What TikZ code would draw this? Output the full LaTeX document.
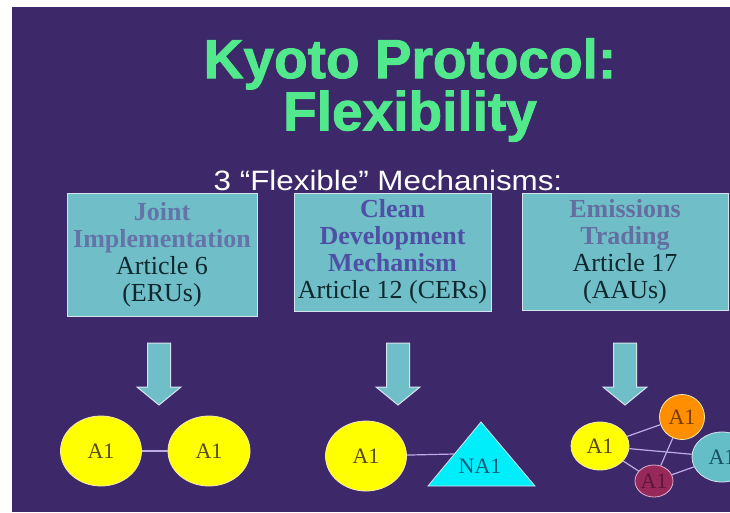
\documentclass[tikz,border=0pt]{standalone}
\usepackage{fontspec}
\usepackage{graphicx}
\setmainfont{Liberation Serif}
\newfontfamily\headfont{Liberation Sans}[BoldFeatures={FakeBold=1.6}]
\usetikzlibrary{shapes.geometric}

\definecolor{bg}{RGB}{61,40,106}
\definecolor{titlegreen}{RGB}{82,232,140}
\definecolor{boxfill}{RGB}{112,190,200}
\definecolor{boxline}{RGB}{215,228,240}
\definecolor{bodytext}{RGB}{15,40,45}
\definecolor{hdA}{RGB}{100,115,168}
\definecolor{hdB}{RGB}{78,80,165}
\definecolor{hdC}{RGB}{100,110,160}
\definecolor{yell}{RGB}{255,255,0}
\definecolor{yellline}{RGB}{245,235,175}
\definecolor{yelltext}{RGB}{85,75,25}
\definecolor{linkcol}{RGB}{190,172,230}
\definecolor{tricol}{RGB}{0,238,250}
\definecolor{tritext}{RGB}{20,90,125}
\definecolor{orangec}{RGB}{255,142,0}
\definecolor{orangetext}{RGB}{120,60,0}
\definecolor{tealc}{RGB}{100,190,200}
\definecolor{tealtext}{RGB}{20,80,100}
\definecolor{maroonc}{RGB}{150,40,90}
\definecolor{maroonline}{RGB}{225,175,205}
\definecolor{maroontext}{RGB}{95,20,60}

\newcommand{\hd}[2]{\textcolor{#1}{\textbf{#2}}}

\begin{document}
\begin{tikzpicture}[x=1pt,y=-1pt]
	\tikzstyle{mbox}=[rectangle, draw=boxline, line width=1pt, fill=boxfill, inner sep=0pt, align=center, text=bodytext, font=\rmfamily\fontsize{26}{27}\selectfont]
	\tikzstyle{e}=[ellipse, inner sep=0pt, line width=0.8pt, font=\rmfamily\fontsize{22}{22}\selectfont]
	\tikzstyle{yl}=[fill=yell, draw=yellline, text=yelltext]
	\tikzstyle{link}=[draw=linkcol, line width=1.2pt]
	\tikzstyle{blockarrow}=[fill=boxfill, draw=boxline, line width=1pt]

	\useasboundingbox (0,0) rectangle (730,512);
	\fill[white] (0,0) rectangle (730,512);
	\fill[bg] (12,7) rectangle (730,512);

	% heading
	\node[font=\headfont\bfseries\fontsize{55}{49}\selectfont, text=titlegreen, align=center] (title) at (410,90) {Kyoto Protocol:\\Flexibility};
	\node[font=\headfont\fontsize{28}{28}\selectfont, text=white] (sub) at (388,180) {\scalebox{1.12}[1]{3 “Flexible” Mechanisms:}};

	% the three mechanisms
	\node[mbox, minimum width=190pt, minimum height=123pt] (ji) at (162,254.5) {\hd{hdA}{Joint}\\\hd{hdA}{Implementation}\\Article 6\\(ERUs)};
	\node[mbox, minimum width=197pt, minimum height=118pt] (cdm) at (392.5,252) {\hd{hdB}{Clean}\\\hd{hdB}{Development}\\\hd{hdB}{Mechanism}\\Article 12 (CERs)};
	\node[mbox, minimum width=206pt, minimum height=117pt] (et) at (625,251.5) {\hd{hdC}{Emissions}\\\hd{hdC}{Trading}\\Article 17\\(AAUs)};

	\foreach \x in {159,398,625}
	\draw[blockarrow] (\x-11.5,343) -- (\x+11.5,343) -- (\x+11.5,387) -- (\x+22,387) -- (\x,405) -- (\x-22,387) -- (\x-11.5,387) -- cycle;

	% joint implementation
	\node[e, yl, minimum width=81pt, minimum height=70pt] (jiA) at (101,451) {A1};
	\node[e, yl, minimum width=82pt, minimum height=70pt] (jiB) at (209,451) {A1};
	\draw[link] (jiA) -- (jiB);

	% clean development mechanism
	\node[e, yl, minimum width=81pt, minimum height=70pt] (cdmA) at (366,456) {A1};
	\draw[fill=tricol, draw=boxline, line width=0.8pt] (481,422) -- (535,486) -- (428,486) -- cycle;
	\node[text=tritext, font=\rmfamily\fontsize{22}{22}\selectfont] (cdmB) at (480,466) {NA1};
	\coordinate (triedge) at (454,454);
	\draw[link] (cdmA) -- (triedge);

	% emissions trading
	\node[e, yl, minimum width=58pt, minimum height=48pt] (etA) at (600,446) {A1};
	\node[e, fill=orangec, draw=yellline, text=orangetext, minimum width=45pt, minimum height=45pt] (etB) at (682,417) {A1};
	\node[e, fill=tealc, draw=boxline, text=tealtext, minimum width=60pt, minimum height=50pt] (etC) at (722,457) {A1};
	\node[e, fill=maroonc, draw=maroonline, text=maroontext, minimum width=38pt, minimum height=32pt] (etD) at (654,481) {A1};
	\foreach \from/\to in {etA/etB,etA/etC,etA/etD,etB/etD,etD/etC}
	\draw[link] (\from) -- (\to);
\end{tikzpicture}
\end{document}
